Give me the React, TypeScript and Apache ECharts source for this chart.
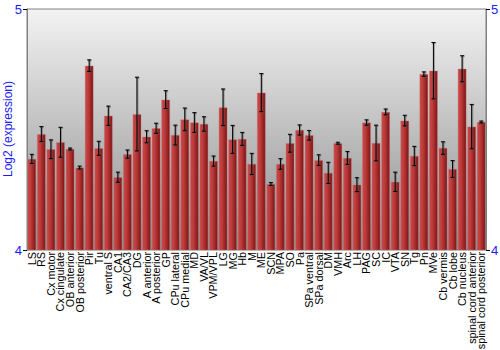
import React, { useEffect, useRef } from "react";
import * as echarts from "echarts";

const categories = [
  "LS", "RS", "Cx motor", "Cx cingulate", "OB anterior", "OB posterior", "Pir", "Tu",
  "ventral S", "CA1", "CA2/CA3", "DG", "A anterior", "A posterior", "GP", "CPu lateral",
  "CPu medial", "MD", "VA/VL", "VPM/VPL", "LG", "MG", "Hb", "M", "ME", "SCN", "MPA",
  "SO", "Pa", "SPa ventral", "SPa dorsal", "DM", "VMH", "Arc", "LH", "PAG", "SC", "IC",
  "VTA", "SN", "Tg", "Pn", "MVe", "Cb vermis", "Cb lobe", "Cb nucleus",
  "spinal cord anterior", "spinal cord posterior",
];

const values = [
  4.378, 4.481, 4.418, 4.447, 4.419, 4.342, 4.765, 4.422,
  4.557, 4.302, 4.398, 4.564, 4.470, 4.505, 4.624, 4.477,
  4.542, 4.529, 4.523, 4.369, 4.592, 4.459, 4.461, 4.357, 4.653, 4.274, 4.357,
  4.443, 4.498, 4.476, 4.373, 4.320, 4.443, 4.382, 4.271, 4.529, 4.444, 4.573,
  4.283, 4.537, 4.390, 4.730, 4.744, 4.423, 4.336, 4.752,
  4.512, 4.531,
];

const errors = [
  0.019, 0.031, 0.039, 0.062, 0.004, 0.006, 0.024, 0.029,
  0.040, 0.021, 0.017, 0.153, 0.025, 0.021, 0.037, 0.041,
  0.047, 0.041, 0.030, 0.021, 0.076, 0.058, 0.027, 0.044, 0.079, 0.006, 0.022,
  0.037, 0.021, 0.020, 0.022, 0.044, 0.004, 0.027, 0.029, 0.011, 0.074, 0.012,
  0.040, 0.022, 0.040, 0.009, 0.117, 0.026, 0.035, 0.054,
  0.092, 0.004,
];

const yTicks = [4, 5];
const yAxisTitle = "Log2 (expression)";

export default function App() {
  const ref = useRef<HTMLDivElement>(null);
  useEffect(() => {
    if (!ref.current) return;
    const chart = echarts.init(ref.current, null, { renderer: "svg" });
    const errData = values.map((v, i) => [i, v - errors[i], v + errors[i]]);
    const yAxisBase = {
      type: "value",
      min: yTicks[0],
      max: yTicks[yTicks.length - 1],
      interval: 1,
      axisLine: { show: true, lineStyle: { color: "#808080" } },
      axisTick: { show: true, length: 4, lineStyle: { color: "#000" } },
      axisLabel: { color: "#1a1aff", fontSize: 13, fontFamily: "Liberation Sans", margin: 5 },
      splitLine: { show: false },
    };
    chart.setOption({
      animation: false,
      grid: {
        left: 27,
        right: 14,
        top: 9,
        bottom: 100,
        outerBoundsMode: "none",
        containLabel: false,
        show: true,
        borderColor: "#808080",
        borderWidth: 1,
        backgroundColor: new echarts.graphic.LinearGradient(0, 0, 0, 1, [
          { offset: 0, color: "#f3f3f3" },
          { offset: 1, color: "#8c8c8c" },
        ]),
      },
      graphic: [
        {
          type: "text",
          x: 8,
          y: 129,
          rotation: Math.PI / 2,
          style: {
            text: yAxisTitle,
            fill: "#1a1aff",
            font: "12px 'Liberation Sans'",
            align: "center",
            verticalAlign: "middle",
          },
        },
      ],
      xAxis: {
        type: "category",
        data: categories,
        axisLine: { show: false },
        axisTick: { show: false },
        axisLabel: {
          interval: 0,
          rotate: 90,
          color: "#000",
          fontSize: 10.8,
          fontFamily: "Liberation Sans",
          margin: 2,
        },
      },
      yAxis: [
        { ...yAxisBase, position: "left" },
        { ...yAxisBase, position: "right" },
      ],
      series: [
        {
          type: "bar",
          data: values,
          barCategoryGap: "10%",
          itemStyle: {
            color: new echarts.graphic.LinearGradient(0, 0, 1, 0, [
              { offset: 0, color: "#c94848" },
              { offset: 0.35, color: "#c03c3c" },
              { offset: 1, color: "#7e1414" },
            ]),
            borderColor: "rgba(200,120,120,0.6)",
            borderWidth: 0.6,
          },
        },
        {
          type: "custom",
          data: errData,
          z: 10,
          renderItem: (params: any, api: any) => {
            const x = api.coord([api.value(0), api.value(1)])[0];
            const lo = api.coord([api.value(0), api.value(1)])[1];
            const hi = api.coord([api.value(0), api.value(2)])[1];
            const w = 2;
            const mk = (sx: number, stroke: string, lw: number) => [
              { type: "line", shape: { x1: x + sx, y1: lo + sx, x2: x + sx, y2: hi + sx }, style: { stroke, lineWidth: lw } },
              { type: "line", shape: { x1: x - w + sx, y1: lo + sx, x2: x + w + sx, y2: lo + sx }, style: { stroke, lineWidth: lw } },
              { type: "line", shape: { x1: x - w + sx, y1: hi + sx, x2: x + w + sx, y2: hi + sx }, style: { stroke, lineWidth: lw } },
            ];
            return {
              type: "group",
              children: [...mk(0.6, "rgba(90,90,90,0.45)", 2), ...mk(0, "#000", 1)],
            };
          },
        },
      ],
    });
    return () => chart.dispose();
  }, []);
  return (
    <div
      ref={ref}
      style={{ position: "fixed", left: 0, top: 0, width: 500, height: 350, background: "#fff" }}
    />
  );
}
